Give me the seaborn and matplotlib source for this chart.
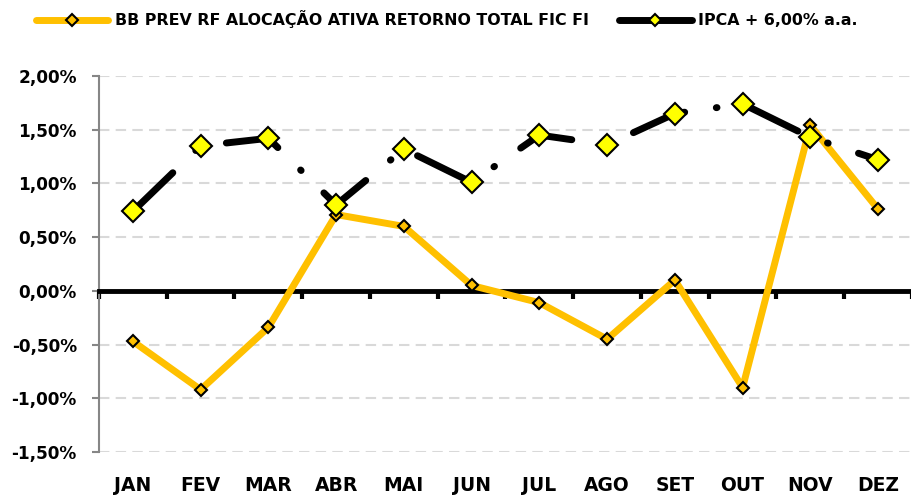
import numpy as np
import pandas as pd
import matplotlib
matplotlib.use('Agg')
import matplotlib.pyplot as plt
from matplotlib.ticker import FuncFormatter
import seaborn as sns

# Monthly returns (%)
months = ['JAN', 'FEV', 'MAR', 'ABR', 'MAI', 'JUN', 'JUL', 'AGO', 'SET', 'OUT', 'NOV', 'DEZ']
fund_name = 'BB PREV RF ALOCAÇÃO ATIVA RETORNO TOTAL FIC FI'
bench_name = 'IPCA + 6,00% a.a.'
fund_ret = [-0.47, -0.92, -0.34, 0.71, 0.60, 0.05, -0.11, -0.45, 0.10, -0.90, 1.54, 0.76]
bench_ret = [0.74, 1.35, 1.42, 0.80, 1.32, 1.01, 1.45, 1.36, 1.65, 1.74, 1.43, 1.22]
y_ticks = [-1.5, -1.0, -0.5, 0.0, 0.5, 1.0, 1.5, 2.0]

sns.set_style('white')
plt.rcParams['font.family'] = ['DejaVu Sans']
plt.rcParams['font.weight'] = 'bold'
plt.rcParams['text.color'] = 'black'
plt.rcParams['xtick.labelcolor'] = 'black'
plt.rcParams['ytick.labelcolor'] = 'black'

df = pd.DataFrame({
    'pos': np.arange(len(months)),
    'month': months,
    'fund': fund_ret,
    'bench': bench_ret,
})

fig = plt.figure(figsize=(9.12, 4.98), dpi=100)
ax = fig.add_axes([99 / 912, 0.0924, 813 / 912, 0.7550])

# Fund line (orange-yellow, small diamonds)
sns.lineplot(data=df, x='pos', y='fund', ax=ax, color='#FFC000', linewidth=5,
             marker='D', markersize=6.5, markerfacecolor='#FFC000',
             markeredgecolor='black', markeredgewidth=1.5,
             label=fund_name, legend=False, zorder=3)
# Benchmark line (black long-dash-dot, big yellow diamonds)
sns.lineplot(data=df, x='pos', y='bench', ax=ax, color='black', linewidth=5,
             marker='D', markersize=11.5, markerfacecolor='#FFFF00',
             markeredgecolor='black', markeredgewidth=1.5,
             label=bench_name, legend=False, zorder=4)

fund_line, bench_line = ax.lines[0], ax.lines[1]
fund_line.set_solid_joinstyle('round')
bench_line.set_linestyle((0, (8.0, 4.6, 0.1, 4.6)))
bench_line.set_dash_capstyle('round')

# Axes
ax.set_xlim(-0.5, len(months) - 0.5)
ax.set_ylim(y_ticks[0], y_ticks[-1])
ax.set_yticks(y_ticks)
ax.yaxis.set_major_formatter(FuncFormatter(lambda v, p: f'{v:.2f}%'.replace('.', ',')))
ax.set_xticks(df['pos'])
ax.set_xticklabels(months)
ax.set_xticks(np.arange(len(months) + 1) - 0.5, minor=True)
ax.set_xlabel('')
ax.set_ylabel('')

ax.spines['bottom'].set_position(('data', 0))
ax.spines['bottom'].set_linewidth(3.5)
ax.spines['bottom'].set_color('black')
ax.spines['top'].set_visible(False)
ax.spines['right'].set_visible(False)
ax.spines['left'].set_color('#868686')
ax.spines['left'].set_linewidth(1.5)

ax.tick_params(axis='x', which='major', length=0, pad=133, labelsize=13.5)
ax.tick_params(axis='x', which='minor', bottom=True, length=6, width=3,
               color='black', direction='out')
ax.tick_params(axis='y', left=True, length=5, width=1.5, color='#868686', pad=11,
               labelsize=12.2)

ax.grid(axis='y', color='#D9D9D9', linestyle=(0, (5, 3)), linewidth=1.5)
ax.set_axisbelow(True)

# Legend on top
leg = ax.legend(loc='upper left', bbox_to_anchor=(0.032, 0.992),
                bbox_transform=fig.transFigure, ncol=2, frameon=False,
                fontsize=11.4, handlelength=4.6, handletextpad=0.4,
                columnspacing=1.9, borderaxespad=0)
for h in leg.get_lines():
    h.set_linestyle('-')
    h.set_solid_capstyle('round')
    h.set_markersize(6)

fig.savefig('out.png', dpi=100)
